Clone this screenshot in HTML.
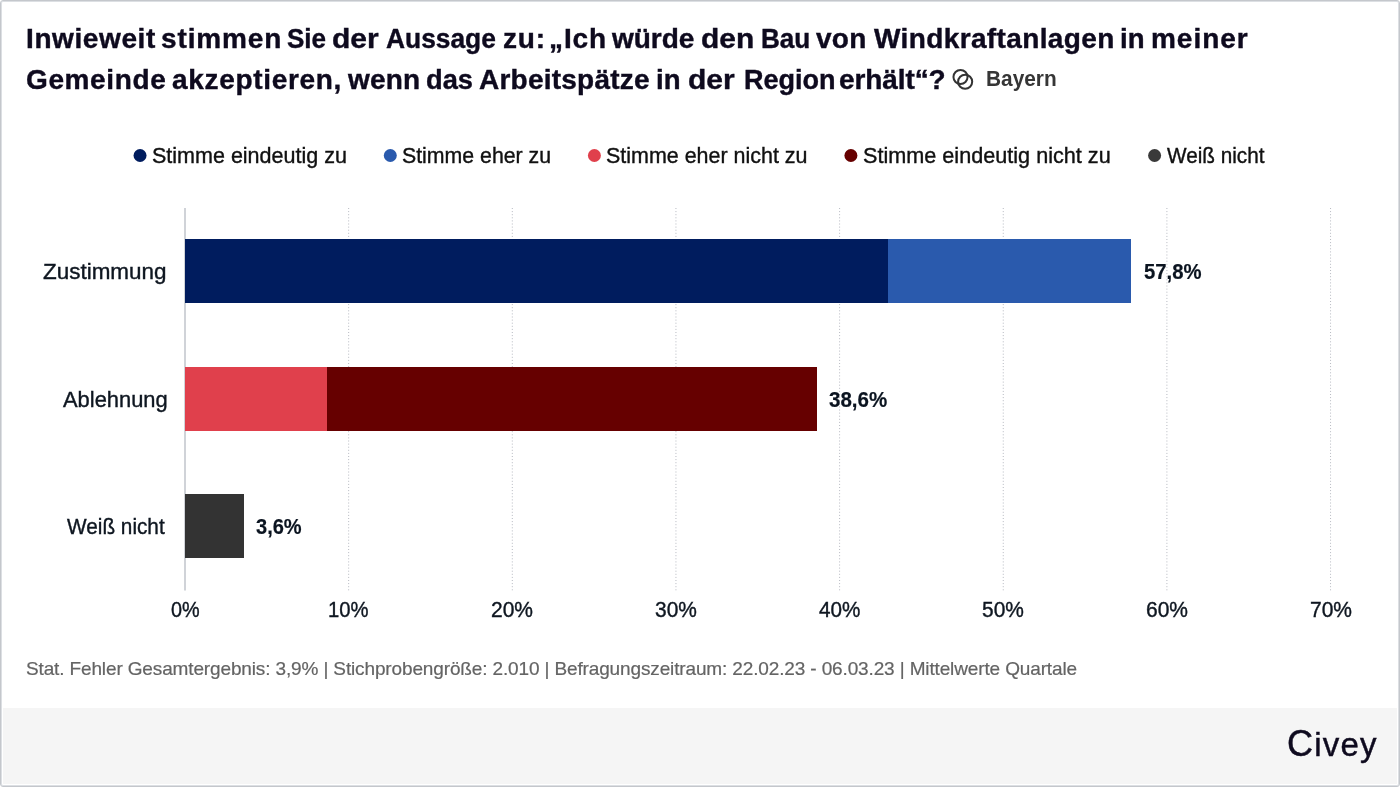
<!DOCTYPE html>
<html lang="de">
<head>
<meta charset="utf-8">
<title>Civey – Windkraftanlagen Bayern</title>
<style>
  html, body { margin: 0; padding: 0; }
  body {
    width: 1400px; height: 787px; overflow: hidden; background: #ffffff;
    font-family: "Liberation Sans", sans-serif; color: #0d1226;
    position: relative;
  }
  .frame {
    position: absolute; left: 0; top: 0; width: 1400px; height: 787px;
    box-sizing: border-box; border: 1px solid #c4c7cc; border-radius: 3px; box-shadow: inset 0 0 0 1px #dcdfe3;
    pointer-events: none; z-index: 10;
  }
  .hd { margin: 0; padding: 0; font-size: 28px; font-weight: bold; }
  .abs { position: absolute; white-space: nowrap; transform-origin: 0 50%; }
  .title { font-weight: bold; color: #0e0a1e; -webkit-text-stroke: 0.4px #0e0a1e; }
  .region { font-weight: bold; color: #363636; }
  .legend { color: #111111; -webkit-text-stroke: 0.4px #111111; }
  .cat { color: #0e1620; -webkit-text-stroke: 0.4px #0e1620; }
  .val { font-weight: bold; color: #0b1420; -webkit-text-stroke: 0.2px #0b1420; }
  .tick { color: #0e1620; -webkit-text-stroke: 0.4px #0e1620; }
  .note { color: #646464; -webkit-text-stroke: 0.2px #646464; }
  .logo { color: #0e0a1e; -webkit-text-stroke: 0.45px #0e0a1e; }
  .bar { position: absolute; height: 64px; }
  .footer { position: absolute; left: 3px; top: 708px; width: 1394px; height: 76px; background: #f5f5f5; }
</style>
</head>

<body>
  <div class="footer"></div>

  <svg style="position:absolute;left:951px;top:67px" width="24" height="24" viewBox="0 0 24 24" fill="none" stroke="#333333" stroke-width="2">
    <circle cx="9.5" cy="10" r="7.05"/><circle cx="14.15" cy="14.7" r="7.05"/>
  </svg>


  <svg style="position:absolute;left:0;top:0" width="1400" height="787" viewBox="0 0 1400 787">
    <g stroke="#b6b9c1" stroke-width="1" stroke-dasharray="1 2.1" fill="none">
    <line x1="348.65" y1="208" x2="348.65" y2="590.5"/>
    <line x1="512.30" y1="208" x2="512.30" y2="590.5"/>
    <line x1="675.95" y1="208" x2="675.95" y2="590.5"/>
    <line x1="839.60" y1="208" x2="839.60" y2="590.5"/>
    <line x1="1003.25" y1="208" x2="1003.25" y2="590.5"/>
    <line x1="1166.90" y1="208" x2="1166.90" y2="590.5"/>
    <line x1="1330.55" y1="208" x2="1330.55" y2="590.5"/>
    </g>
    <line x1="185" y1="208" x2="185" y2="590.5" stroke="#d0d3d8" stroke-width="2"/>
    <circle cx="140.05" cy="155.5" r="6.5" fill="#001c5e"/>
    <circle cx="390.3" cy="155.5" r="6.5" fill="#2a5aad"/>
    <circle cx="594.4" cy="155.5" r="6.5" fill="#e0404c"/>
    <circle cx="850.9" cy="155.5" r="6.5" fill="#660000"/>
    <circle cx="1154.6" cy="155.5" r="6.5" fill="#3a3a3a"/>
  </svg>

  <div class="bar" style="left:185px;top:239px;width:703px;background:#001c5e"></div>
  <div class="bar" style="left:888px;top:239px;width:243px;background:#2a5aad"></div>
  <div class="bar" style="left:185px;top:367px;width:142px;background:#e0404c"></div>
  <div class="bar" style="left:327px;top:367px;width:490px;background:#660000"></div>
  <div class="bar" style="left:185px;top:494px;width:59px;background:#333333"></div>

  <h1 class="hd">
    <span class="abs title" id="w1_0" style="left:26.00px;top:21.00px;font-size:28px;line-height:35px;letter-spacing:0.600px">Inwieweit</span>
    <span class="abs title" id="w1_1" style="left:161.00px;top:21.00px;font-size:28px;line-height:35px;letter-spacing:0.876px">stimmen</span>
    <span class="abs title" id="w1_2" style="left:287.00px;top:21.00px;font-size:28px;line-height:35px;transform:scaleX(0.9300)">Sie</span>
    <span class="abs title" id="w1_3" style="left:332.00px;top:21.00px;font-size:28px;line-height:35px;transform:scaleX(1.0700)">der</span>
    <span class="abs title" id="w1_4" style="left:386.00px;top:21.00px;font-size:28px;line-height:35px;transform:scaleX(0.9415)">Aussage</span>
    <span class="abs title" id="w1_5" style="left:503.00px;top:21.00px;font-size:28px;line-height:35px;letter-spacing:0.836px">zu:</span>
    <span class="abs title" id="w1_6" style="left:549.00px;top:21.00px;font-size:28px;line-height:35px;letter-spacing:0.920px">„Ich</span>
    <span class="abs title" id="w1_7" style="left:612.00px;top:21.00px;font-size:28px;line-height:35px;letter-spacing:-0.036px">würde</span>
    <span class="abs title" id="w1_8" style="left:701.00px;top:21.00px;font-size:28px;line-height:35px;transform:scaleX(1.0674)">den</span>
    <span class="abs title" id="w1_9" style="left:761.00px;top:21.00px;font-size:28px;line-height:35px;transform:scaleX(0.9322)">Bau</span>
    <span class="abs title" id="w1_10" style="left:816.00px;top:21.00px;font-size:28px;line-height:35px;letter-spacing:0.275px">von</span>
    <span class="abs title" id="w1_11" style="left:874.00px;top:21.00px;font-size:28px;line-height:35px;letter-spacing:0.377px">Windkraftanlagen</span>
    <span class="abs title" id="w1_12" style="left:1120.00px;top:21.00px;font-size:28px;line-height:35px;transform:scaleX(0.9844)">in</span>
    <span class="abs title" id="w1_13" style="left:1151.00px;top:21.00px;font-size:28px;line-height:35px;letter-spacing:0.971px">meiner</span>
    <span class="abs title" id="w2_0" style="left:26.00px;top:62.00px;font-size:28px;line-height:35px;letter-spacing:0.620px">Gemeinde</span>
    <span class="abs title" id="w2_1" style="left:172.00px;top:62.00px;font-size:28px;line-height:35px;letter-spacing:0.675px">akzeptieren,</span>
    <span class="abs title" id="w2_2" style="left:348.00px;top:62.00px;font-size:28px;line-height:35px;letter-spacing:0.160px">wenn</span>
    <span class="abs title" id="w2_3" style="left:426.00px;top:62.00px;font-size:28px;line-height:35px;transform:scaleX(0.9737)">das</span>
    <span class="abs title" id="w2_4" style="left:479.00px;top:62.00px;font-size:28px;line-height:35px;letter-spacing:0.232px">Arbeitspätze</span>
    <span class="abs title" id="w2_5" style="left:656.00px;top:62.00px;font-size:28px;line-height:35px;transform:scaleX(0.9844)">in</span>
    <span class="abs title" id="w2_6" style="left:688.00px;top:62.00px;font-size:28px;line-height:35px;transform:scaleX(1.0700)">der</span>
    <span class="abs title" id="w2_7" style="left:744.00px;top:62.00px;font-size:28px;line-height:35px;transform:scaleX(0.9650)">Region</span>
    <span class="abs title" id="w2_8" style="left:839.00px;top:62.00px;font-size:28px;line-height:35px;letter-spacing:-0.090px">erhält“?</span>
  </h1>
  <div class="abs region" id="rg" style="left:986.00px;top:63.00px;font-size:22.8px;line-height:30px;transform:scaleX(0.9137)">Bayern</div>
  <div class="abs legend" id="l1" style="left:152.00px;top:140.00px;font-size:22.7px;line-height:30px;transform:scaleX(0.9481)">Stimme eindeutig zu</div>
  <div class="abs legend" id="l2" style="left:402.00px;top:140.00px;font-size:22.7px;line-height:30px;transform:scaleX(0.9384)">Stimme eher zu</div>
  <div class="abs legend" id="l3" style="left:606.00px;top:140.00px;font-size:22.7px;line-height:30px;transform:scaleX(0.9455)">Stimme eher nicht zu</div>
  <div class="abs legend" id="l4" style="left:863.00px;top:140.00px;font-size:22.7px;line-height:30px;transform:scaleX(0.9534)">Stimme eindeutig nicht zu</div>
  <div class="abs legend" id="l5" style="left:1167.00px;top:140.00px;font-size:22.7px;line-height:30px;transform:scaleX(0.9127)">Weiß nicht</div>
  <div class="abs cat" id="c1" style="left:43.00px;top:256.00px;font-size:22.7px;line-height:30px;transform:scaleX(0.9893)">Zustimmung</div>
  <div class="abs cat" id="c2" style="left:63.00px;top:384.00px;font-size:22.7px;line-height:30px;transform:scaleX(0.9650)">Ablehnung</div>
  <div class="abs cat" id="c3" style="left:67.00px;top:511.00px;font-size:22.7px;line-height:30px;transform:scaleX(0.9151)">Weiß nicht</div>
  <div class="abs val" id="v1" style="left:1144.00px;top:256.00px;font-size:22.7px;line-height:30px;transform:scaleX(0.8945)">57,8%</div>
  <div class="abs val" id="v2" style="left:829.00px;top:384.00px;font-size:22.7px;line-height:30px;transform:scaleX(0.9046)">38,6%</div>
  <div class="abs val" id="v3" style="left:256.00px;top:511.00px;font-size:22.7px;line-height:30px;transform:scaleX(0.8831)">3,6%</div>
  <div class="abs tick" id="k0" style="left:171.00px;top:594.00px;font-size:22.7px;line-height:30px;transform:scaleX(0.8738)">0%</div>
  <div class="abs tick" id="k1" style="left:328.00px;top:594.00px;font-size:22.7px;line-height:30px;transform:scaleX(0.8925)">10%</div>
  <div class="abs tick" id="k2" style="left:491.00px;top:594.00px;font-size:22.7px;line-height:30px;transform:scaleX(0.9255)">20%</div>
  <div class="abs tick" id="k3" style="left:655.00px;top:594.00px;font-size:22.7px;line-height:30px;transform:scaleX(0.9223)">30%</div>
  <div class="abs tick" id="k4" style="left:819.00px;top:594.00px;font-size:22.7px;line-height:30px;transform:scaleX(0.9116)">40%</div>
  <div class="abs tick" id="k5" style="left:982.00px;top:594.00px;font-size:22.7px;line-height:30px;transform:scaleX(0.9214)">50%</div>
  <div class="abs tick" id="k6" style="left:1146.00px;top:594.00px;font-size:22.7px;line-height:30px;transform:scaleX(0.9261)">60%</div>
  <div class="abs tick" id="k7" style="left:1310.00px;top:594.00px;font-size:22.7px;line-height:30px;transform:scaleX(0.9255)">70%</div>
  <div class="abs note" id="nt" style="left:26.00px;top:656.00px;font-size:19px;line-height:25px;letter-spacing:-0.136px">Stat. Fehler Gesamtergebnis: 3,9% | Stichprobengröße: 2.010 | Befragungszeitraum: 22.02.23 - 06.03.23 | Mittelwerte Quartale</div>
  <div class="abs logo" id="lg" style="left:1287.00px;top:721.00px;font-size:36px;line-height:45px;letter-spacing:1.212px">C<span style="font-size:33px">ivey</span></div>

  <div class="frame"></div>
</body>
</html>
